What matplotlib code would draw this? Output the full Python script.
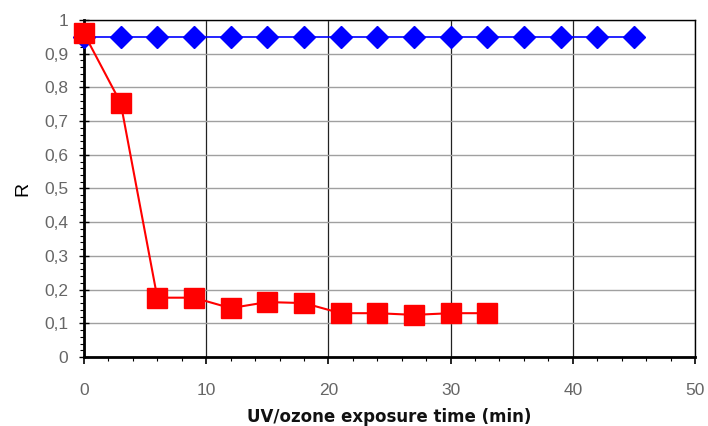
import matplotlib
matplotlib.use("Agg")
import matplotlib.pyplot as plt
from matplotlib.ticker import MultipleLocator, FuncFormatter

# Data
time_blue = [0, 3, 6, 9, 12, 15, 18, 21, 24, 27, 30, 33, 36, 39, 42, 45]
r_blue = [0.95] * 16
time_red = [0, 3, 6, 9, 12, 15, 18, 21, 24, 27, 30, 33]
r_red = [0.96, 0.754, 0.176, 0.176, 0.145, 0.163, 0.160, 0.130, 0.130, 0.125, 0.130, 0.130]
x_label = "UV/ozone exposure time (min)"
y_label = "R"

plt.rcParams['font.family'] = ['Liberation Sans', 'DejaVu Sans']

fig = plt.figure(figsize=(7.08, 4.26), dpi=100)
ax = fig.add_axes([84/708, 1-357/426, (695-84)/708, (357-20)/426])

ax.set_xlim(0, 50)
ax.set_ylim(0, 1)

# grid
ax.xaxis.set_major_locator(MultipleLocator(10))
ax.xaxis.set_minor_locator(MultipleLocator(2))
ax.yaxis.set_major_locator(MultipleLocator(0.1))
ax.yaxis.set_minor_locator(MultipleLocator(0.02))
ax.grid(axis='y', which='major', color='#a0a0a0', lw=1.0)
ax.grid(axis='x', which='major', color='#222222', lw=0.9)
ax.set_axisbelow(True)

ax.plot(time_blue, r_blue, color='#0000ff', lw=1.2, marker='D', markersize=11.5,
        markerfacecolor='#0000ff', markeredgecolor='#0000ff', zorder=3, clip_on=False)
ax.plot(time_red, r_red, color='#ff0000', lw=1.5, marker='s', markersize=14,
        markerfacecolor='#ff0000', markeredgecolor='#ff0000', zorder=4, clip_on=False)

fmt = FuncFormatter(lambda v, p: ('%g' % round(v, 2)).replace('.', ','))
ax.yaxis.set_major_formatter(fmt)

for s in ['left', 'bottom']:
    ax.spines[s].set_linewidth(2.0)
for s in ['top', 'right']:
    ax.spines[s].set_linewidth(1.0)
for s in ax.spines.values():
    s.set_color('black')
    s.set_zorder(2.5)

ax.tick_params(axis='y', which='major', direction='inout', length=7, width=1,
               labelsize=12.5, labelcolor='#666666', pad=8)
ax.tick_params(axis='y', which='minor', direction='out', length=3, width=0.8)
ax.tick_params(axis='x', which='major', direction='out', length=5, width=1.2,
               labelsize=12.5, labelcolor='#666666', pad=14)
ax.tick_params(axis='x', which='minor', direction='out', length=3, width=0.8)

ax.set_xlabel(x_label, fontsize=12, fontweight='bold', color='#111111', labelpad=7,
              family='DejaVu Sans')
ax.set_ylabel(y_label, fontsize=14, color='black', labelpad=9)

fig.savefig('out.png', dpi=100)
